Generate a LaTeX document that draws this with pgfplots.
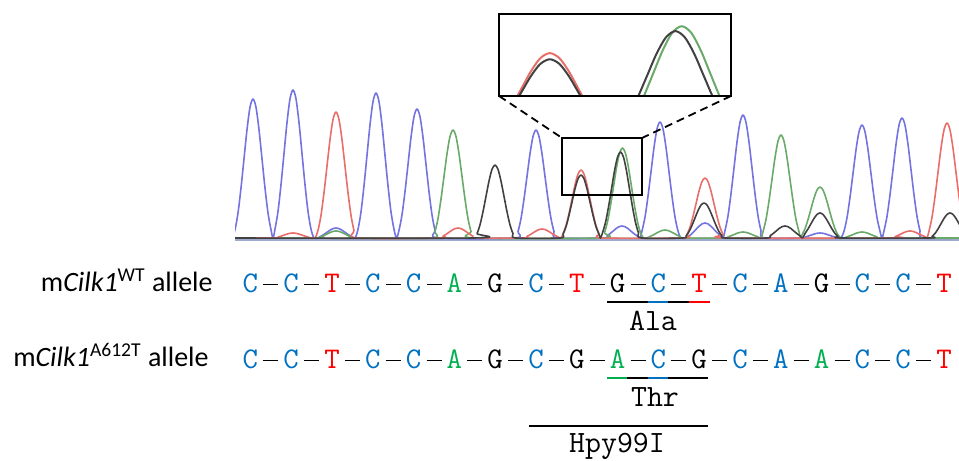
\documentclass[border=0pt]{standalone}
\usepackage{pgfplots}
\pgfplotsset{compat=1.18}
\usepackage{pgfplotstable}
\usepackage{fontspec}
\setmainfont{Carlito}
\definecolor{sb}{HTML}{0070C0}
\definecolor{sr}{HTML}{FF0000}
\definecolor{sg}{HTML}{00B050}
\definecolor{sk}{HTML}{000000}
\definecolor{tb}{RGB}{115,115,225}
\definecolor{tr}{RGB}{232,110,105}
\definecolor{tg}{RGB}{105,170,105}
\definecolor{tk}{RGB}{65,65,65}
\definecolor{tbase}{RGB}{160,170,205}
\newcommand\SQ[2]{\makebox[10.2pt]{\textcolor{#1}{#2}}}
\newcommand\DS{\makebox[10.2pt]{\rule[3.8pt]{7.5pt}{0.65pt}}}

\pgfplotstableread[row sep=\\]{x y\\
232 0\\235 8.3\\238 25.0\\241 50.0\\244 79.2\\247 108.4\\250 130.7\\253 139\\256 130.7\\259 108.4\\262 79.2\\265 50.0\\268 25.0\\271 8.3\\273 0\\
275 8.9\\278 26.6\\281 53.3\\284 84.4\\287 115.4\\290 139.1\\293 148\\296 139.1\\299 115.4\\302 84.4\\305 53.3\\308 26.6\\311 8.9\\314 0\\
318 0\\321 1.8\\324 3.6\\327 5.7\\330 7.8\\333 9.4\\336 10\\339 9.4\\342 7.8\\345 5.7\\348 3.6\\351 1.8\\355 0\\
358 8.7\\361 26.1\\364 52.2\\367 82.7\\370 113.1\\373 136.3\\376 145\\379 136.3\\382 113.1\\385 82.7\\388 52.2\\391 26.1\\394 8.7\\396.5 0\\
399 7.7\\402 23.2\\405 46.4\\408 73.5\\411 100.6\\414 121.3\\417 129\\420 121.3\\423 100.6\\426 73.5\\429 46.4\\432 23.2\\435 7.7\\438 0\\
515 0\\518 6.5\\521 19.4\\524 38.9\\527 61.6\\530 84.2\\533 101.5\\536 108\\539 101.5\\542 84.2\\545 61.6\\548 38.9\\551 19.4\\554 6.5\\557 0\\
604 0\\607 2.2\\610 4.3\\613 6.8\\616 9.4\\619 11.3\\622 12\\625 11.3\\628 9.4\\631 6.8\\634 4.3\\637 2.2\\640 0\\
642 7.0\\645 20.9\\648 41.8\\651 66.1\\654 90.5\\657 109.0\\660 116\\663 109.0\\666 90.5\\669 66.1\\672 41.8\\675 20.9\\678 7.0\\681 0\\
687 0\\690 2.7\\693 5.4\\696 8.6\\699 11.7\\702 14.1\\705 15\\708 14.1\\711 11.7\\714 8.6\\717 5.4\\720 2.7\\723 0\\
725 7.4\\728 22.1\\731 44.3\\734 70.1\\737 95.9\\740 115.6\\743 123\\746 115.6\\749 95.9\\752 70.1\\755 44.3\\758 22.1\\761 7.4\\764 0\\
802 0\\805 0.9\\808 1.8\\811 2.9\\814 3.9\\817 4.7\\820 5\\823 4.7\\826 3.9\\829 2.9\\832 1.8\\835 0.9\\838 0\\
841 0\\844 6.8\\847 20.3\\850 40.7\\853 64.4\\856 88.1\\859 106.2\\862 113\\865 106.2\\868 88.1\\871 64.4\\874 40.7\\877 20.3\\880 6.8\\882 0\\
884 7.2\\887 21.6\\890 43.2\\893 68.4\\896 93.6\\899 112.8\\902 120\\905 112.8\\908 93.6\\911 68.4\\914 43.2\\917 21.6\\920 7.2\\923 0\\962 0\\
}\tblue

\pgfplotstableread[row sep=\\]{x y\\
232 0\\275 0\\278 0.9\\281 1.8\\284 2.9\\287 3.9\\290 4.7\\293 5\\296 4.7\\299 3.9\\302 2.9\\305 1.8\\308 0.9\\311 0\\
315 0\\318 7.6\\321 22.7\\324 45.4\\327 71.8\\330 98.3\\333 118.4\\336 126\\339 118.4\\342 98.3\\345 71.8\\348 45.4\\351 22.7\\354 7.6\\357 0\\
440 0\\443 1.8\\446 3.6\\449 5.7\\452 7.8\\455 9.4\\458 10\\461 9.4\\464 7.8\\467 5.7\\470 3.6\\473 1.8\\476 0\\
524 0\\527 1.6\\530 3.2\\533 5.1\\536 7.0\\539 8.5\\542 9\\545 8.5\\548 7.0\\551 5.1\\554 3.2\\557 1.6\\561 0\\
563 4.1\\566 12.2\\569 24.5\\572 38.8\\575 53.0\\578 63.9\\581 68\\584 63.9\\587 53.0\\590 38.8\\593 24.5\\596 12.2\\599 4.1\\602 0\\
684 0\\687 3.6\\690 10.8\\693 21.6\\696 34.2\\699 46.8\\702 56.4\\705 60\\708 56.4\\711 46.8\\714 34.2\\717 21.6\\720 10.8\\723 3.6\\726 0\\
892 0\\895 1.3\\898 2.5\\901 4.0\\904 5.5\\907 6.6\\910 7\\913 6.6\\916 5.5\\919 4.0\\922 2.5\\925 1.3\\927 0\\
929 6.9\\932 20.7\\935 41.4\\938 65.6\\941 89.7\\944 108.1\\947 115\\950 108.1\\953 89.7\\956 65.6\\959 41.4\\962 20.7\\965 6.9\\968 0\\
}\tred

\pgfplotstableread[row sep=\\]{x y\\
232 0\\318 0\\321 1.3\\324 2.5\\327 4.0\\330 5.5\\333 6.6\\336 7\\339 6.6\\342 5.5\\345 4.0\\348 2.5\\351 1.3\\354 0\\
432 0\\435 6.5\\438 19.4\\441 38.9\\444 61.6\\447 84.2\\450 101.5\\453 108\\456 101.5\\459 84.2\\462 61.6\\465 38.9\\468 19.4\\471 6.5\\474 0\\
601.5 0\\604.5 5.4\\607.5 16.2\\610.5 32.4\\613.5 51.3\\616.5 70.2\\619.5 84.6\\622.5 90\\625.5 84.6\\628.5 70.2\\631.5 51.3\\634.5 32.4\\637.5 16.2\\640.5 5.4\\643.5 0\\
647 0\\650 1.4\\653 2.9\\656 4.6\\659 6.2\\662 7.5\\665 8\\668 7.5\\671 6.2\\674 4.6\\677 2.9\\680 1.4\\683 0\\
725 0\\728 1.1\\731 2.2\\734 3.4\\737 4.7\\740 5.6\\743 6\\746 5.6\\749 4.7\\752 3.4\\755 2.2\\758 1.1\\761 0\\
763 6.2\\766 18.5\\769 37.1\\772 58.7\\775 80.3\\778 96.8\\781 103\\784 96.8\\787 80.3\\790 58.7\\793 37.1\\796 18.5\\799 6.2\\800.5 0\\
802 3.1\\805 9.2\\808 18.4\\811 29.1\\814 39.8\\817 47.9\\820 51\\823 47.9\\826 39.8\\829 29.1\\832 18.4\\835 9.2\\838 3.1\\841 0\\
844 0\\847 1.1\\850 2.2\\853 3.4\\856 4.7\\859 5.6\\862 6\\865 5.6\\868 4.7\\871 3.4\\874 2.2\\877 1.1\\880 0\\962 0\\
}\tgreen

\pgfplotstableread[row sep=\\]{x y\\
232 0\\474 0\\477 4.4\\480 13.1\\483 26.3\\486 41.6\\489 56.9\\492 68.6\\495 73\\498 68.6\\501 56.9\\504 41.6\\507 26.3\\510 13.1\\513 4.4\\516 0\\
560 0\\563 3.8\\566 11.3\\569 22.7\\572 35.9\\575 49.1\\578 59.2\\581 63\\584 59.2\\587 49.1\\590 35.9\\593 22.7\\596 11.3\\599 3.8\\600.5 0\\
602.5 5.2\\605.5 15.5\\608.5 31.0\\611.5 49.0\\614.5 67.1\\617.5 80.8\\620.5 86\\623.5 80.8\\626.5 67.1\\629.5 49.0\\632.5 31.0\\635.5 15.5\\638.5 5.2\\641.5 0\\
683 0\\686 2.1\\689 6.3\\692 12.6\\695 20.0\\698 27.3\\701 32.9\\704 35\\707 32.9\\710 27.3\\713 20.0\\716 12.6\\719 6.3\\722 2.1\\725 0\\
767 0\\770 2.2\\773 4.3\\776 6.8\\779 9.4\\782 11.3\\785 12\\788 11.3\\791 9.4\\794 6.8\\797 4.3\\800 2.2\\802.5 0\\
805 4.5\\808 9.0\\811 14.3\\814 19.5\\817 23.5\\820 25\\823 23.5\\826 19.5\\829 14.3\\832 9.0\\835 4.5\\838 1.5\\841 0\\
929 0\\932 1.5\\935 4.5\\938 9.0\\941 14.3\\944 19.5\\947 23.5\\950 25\\953 23.5\\956 19.5\\959 14.3\\962 9.0\\965 4.5\\968 0\\
}\tblack

\begin{document}
\begin{tikzpicture}
% chromatogram trace
\begin{axis}[at={(117.5pt,106pt)}, anchor=south west, x=0.5pt, y=0.5pt,
  xmin=235, xmax=959, ymin=-10, ymax=238, hide axis, clip=true]
  \addplot[tbase, line width=1.3pt] coordinates {(230,-2) (965,-2)};
  \addplot[brown!70!black, opacity=0.35, line width=0.5pt] coordinates {(230,0.5) (965,0.5)};
  \addplot[tb, line width=0.8pt, smooth, line join=round] table {\tblue};
  \addplot[tg, line width=0.8pt, smooth, line join=round] table {\tgreen};
  \addplot[tr, line width=0.8pt, smooth, line join=round] table {\tred};
  \addplot[tk, line width=0.8pt, smooth, line join=round] table {\tblack};
\end{axis}
% inset (magnified)
\begin{axis}[at={(249.5pt,182pt)}, anchor=south west, width=116pt, height=41pt,
  scale only axis, xmin=565, xmax=638, ymin=33, ymax=100, hide axis, clip=true]
  \addplot[tg, line width=1pt, smooth] table {\tgreen};
  \addplot[tr, line width=1pt, smooth] table {\tred};
  \addplot[tk, line width=1pt, smooth] table {\tblack};
\end{axis}
% annotation layer in pixel coordinates
\begin{axis}[at={(0pt,0pt)}, anchor=south west, x=0.5pt, y=0.5pt,
  xmin=0, xmax=959, ymin=0, ymax=460, y dir=reverse, hide axis, clip=false]
  \path (axis cs:0,0) rectangle (axis cs:959,460);
  \draw[black, line width=1pt] (axis cs:499,14) rectangle (axis cs:731,96);
  \draw[black, line width=0.8pt] (axis cs:562,138) rectangle (axis cs:642,195);
  \draw[black, line width=0.9pt, dash pattern=on 4pt off 2.5pt] (axis cs:499,96) -- (axis cs:562,138);
  \draw[black, line width=0.9pt, dash pattern=on 4pt off 2.5pt] (axis cs:731,96) -- (axis cs:642,138);
  % labels
  \node[anchor=base east, inner sep=0, font=\fontsize{14}{16}\selectfont] at (axis cs:213,292) {m\textit{Cilk1}\textsuperscript{WT} allele};
  \node[anchor=base east, inner sep=0, font=\fontsize{14}{16}\selectfont] at (axis cs:209,367) {m\textit{Cilk1}\textsuperscript{A612T} allele};
  % sequences
  \node[anchor=base west, inner sep=0, font=\ttfamily\fontsize{15}{17}\selectfont] at (axis cs:239.8,293)
   {\SQ{sb}{C}\DS\SQ{sb}{C}\DS\SQ{sr}{T}\DS\SQ{sb}{C}\DS\SQ{sb}{C}\DS\SQ{sg}{A}\DS\SQ{sk}{G}\DS\SQ{sb}{C}\DS\SQ{sr}{T}\DS\SQ{sk}{G}\DS\SQ{sb}{C}\DS\SQ{sr}{T}\DS\SQ{sb}{C}\DS\SQ{sb}{A}\DS\SQ{sk}{G}\DS\SQ{sb}{C}\DS\SQ{sb}{C}\DS\SQ{sr}{T}};
  \node[anchor=base west, inner sep=0, font=\ttfamily\fontsize{15}{17}\selectfont] at (axis cs:239.8,369)
   {\SQ{sb}{C}\DS\SQ{sb}{C}\DS\SQ{sr}{T}\DS\SQ{sb}{C}\DS\SQ{sb}{C}\DS\SQ{sg}{A}\DS\SQ{sk}{G}\DS\SQ{sb}{C}\DS\SQ{sk}{G}\DS\SQ{sg}{A}\DS\SQ{sb}{C}\DS\SQ{sk}{G}\DS\SQ{sb}{C}\DS\SQ{sb}{A}\DS\SQ{sg}{A}\DS\SQ{sb}{C}\DS\SQ{sb}{C}\DS\SQ{sr}{T}};
  % codon underlines
  \draw[sk, line width=1pt] (axis cs:607,302) -- (axis cs:648,302);
  \draw[sb, line width=1pt] (axis cs:648,302) -- (axis cs:668,302);
  \draw[sk, line width=1pt] (axis cs:668,302) -- (axis cs:689,302);
  \draw[sr, line width=1pt] (axis cs:689,302) -- (axis cs:710,302);
  \draw[sg, line width=1pt] (axis cs:607,378) -- (axis cs:627,378);
  \draw[sk, line width=1pt] (axis cs:627,378) -- (axis cs:648,378);
  \draw[sb, line width=1pt] (axis cs:648,378) -- (axis cs:668,378);
  \draw[sk, line width=1pt] (axis cs:668,378) -- (axis cs:708,378);
  \draw[black, line width=0.75pt] (axis cs:529,426) -- (axis cs:708,426);
  \node[anchor=base, inner sep=0, font=\ttfamily\fontsize{15.5}{17}\selectfont] at (axis cs:653,331) {Ala};
  \node[anchor=base, inner sep=0, font=\ttfamily\fontsize{15.5}{17}\selectfont] at (axis cs:655,407) {Thr};
  \node[anchor=base, inner sep=0, font=\ttfamily\fontsize{15.5}{17}\selectfont] at (axis cs:617,453) {Hpy99I};
\end{axis}
\end{tikzpicture}
\end{document}
